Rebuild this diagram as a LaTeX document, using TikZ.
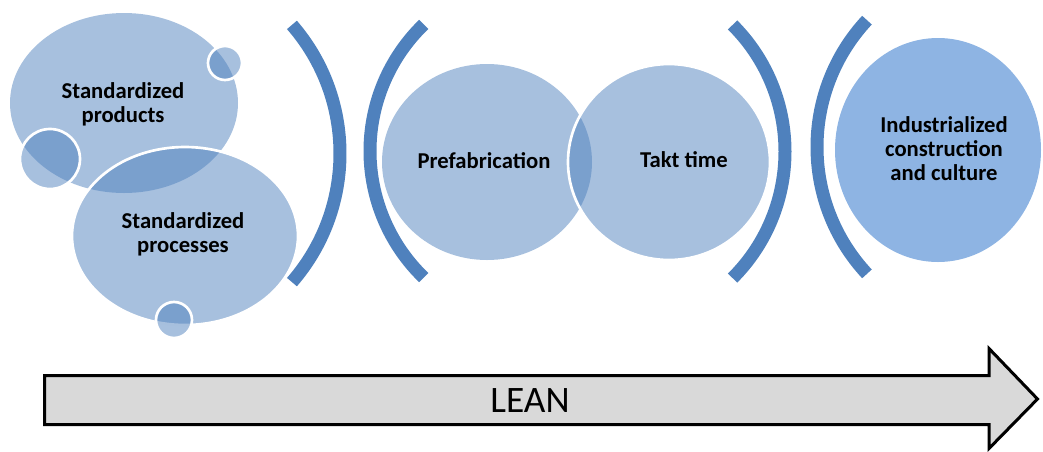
\documentclass[tikz,border=0pt]{standalone}
\usepackage{fontspec}
\setmainfont{Carlito}
\definecolor{accent}{HTML}{4F81BD}
\definecolor{solidblue}{HTML}{8EB4E3}
\definecolor{leangray}{HTML}{D9D9D9}
\begin{document}
\begin{tikzpicture}[x=0.75pt,y=-0.75pt,
  bubble/.style={fill=accent, fill opacity=0.5, draw=white, draw opacity=1, line width=2pt},
  plainbubble/.style={fill=accent, fill opacity=0.5},
  bracket/.style={draw=accent, line width=9.75pt},
  label/.style={font=\bfseries\fontsize{17}{18}\selectfont, align=center, text=black, text opacity=1, inner sep=0pt}
]
\useasboundingbox (0,0) rectangle (1043,451);

% standardization cluster
\path[plainbubble] (124,103) ellipse[x radius=114, y radius=90];
\path[bubble] (185,236) ellipse[x radius=113, y radius=89];
\path[bubble] (225,63) circle[radius=17];
\path[bubble] (50,159) circle[radius=30];
\path[bubble] (174,320) circle[radius=18];
\node[label] (prod) at (123,104) {Standardized\\products};
\node[label] (proc) at (183,234) {Standardized\\processes};

% brackets
\draw[bracket] (144,153.5) ++(-41:196) arc[start angle=-41, end angle=41, radius=196];
\draw[bracket] (546,151) ++(134:176) arc[start angle=134, end angle=226, radius=176];
\draw[bracket] (606,151.5) ++(-45:179) arc[start angle=-45, end angle=45, radius=179];
\draw[bracket] (1003,147) ++(137:186) arc[start angle=137, end angle=223, radius=186];

% prefabrication and takt time
\path[plainbubble] (487,162) ellipse[x radius=105, y radius=98];
\path[bubble] (669,162) ellipse[x radius=101, y radius=98];
\node[label] (prefab) at (484,161) {Prefabrication};
\node[label] (takt) at (684,160) {Takt time};

% industrialized construction
\path[fill=solidblue] (938,150) ellipse[x radius=103, y radius=112];
\node[label] (ind) at (944,149) {Industrialized\\construction\\and culture};

% LEAN arrow
\draw[fill=leangray, line width=2.25pt]
  (44.5,375.5) -- (989,375.5) -- (989,348.5) -- (1037.5,399) -- (989,448.5)
  -- (989,424.5) -- (44.5,424.5) -- cycle;
\node[font=\fontsize{28}{30}\selectfont, inner sep=0pt] (lean) at (530,401) {LEAN};
\end{tikzpicture}
\end{document}
